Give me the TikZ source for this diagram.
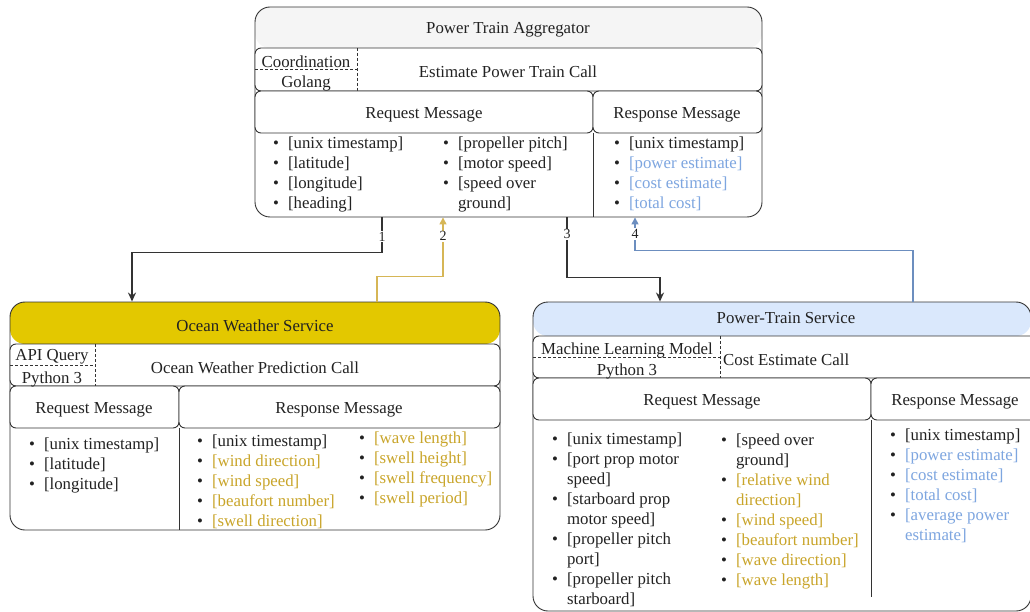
\documentclass[tikz,border=0pt]{standalone}
\usepackage{fontspec}
\setmainfont{Liberation Serif}
\usetikzlibrary{arrows.meta}

\definecolor{edge}{HTML}{333333}
\definecolor{txt}{HTML}{222222}
\definecolor{hdrgray}{HTML}{F5F5F5}
\definecolor{owsfill}{HTML}{E3C800}
\definecolor{ptsfill}{HTML}{DAE8FC}
\definecolor{ptsline}{HTML}{7EA6E0}
\definecolor{goldtxt}{HTML}{C9A52A}
\definecolor{bluetxt}{HTML}{7EA6E0}
\definecolor{goldarr}{HTML}{D6B656}
\definecolor{bluearr}{HTML}{6C8EBF}

\newcommand{\gd}[1]{\textcolor{goldtxt}{#1}}
\newcommand{\bl}[1]{\textcolor{bluetxt}{#1}}
\newcommand{\blist}[1]{\begin{tabular}{@{}c@{\hspace{9pt}}l@{}}#1\end{tabular}}

\tikzset{
  svcbox/.style={draw=edge, line width=0.9pt, fill=white, rounded corners=15pt, inner sep=0pt},
  rowbox/.style={draw=edge, line width=0.9pt, fill=white, rounded corners=6pt},
  splitline/.style={draw=edge, densely dashed, line width=0.6pt},
  ttl/.style={text=txt, font={\fontsize{16.8}{20}\selectfont}, inner sep=1pt, yshift=-2pt},
  lst/.style={text=txt, font={\fontsize{16.8}{20}\selectfont}, anchor=north west, inner sep=0pt, align=left},
  lbl/.style={fill=white, text=txt, font={\fontsize{14}{16}\selectfont}, inner sep=1pt},
  callarr/.style={draw=edge, line width=1.6pt, -{Stealth[length=9pt,width=8pt]}},
  goldret/.style={draw=goldarr, line width=1.4pt, -{Triangle[length=7pt,width=7pt]}},
  blueret/.style={draw=bluearr, line width=1.4pt, -{Triangle[length=7pt,width=7pt]}},
}

\begin{document}
\begin{tikzpicture}[x=1pt, y=-1pt]
\useasboundingbox (0,0) rectangle (1030,612);

%%%%% Power Train Aggregator %%%%%
\node[svcbox, minimum width=507pt, minimum height=210pt,
  path picture={\fill[hdrgray] (path picture bounding box.north west) rectangle ([yshift=-41pt]path picture bounding box.north east);}]
  (agg) at (508.5,112) {};
\draw[rowbox] (255,48) rectangle (762,91);
\draw[splitline] (357,48) -- (357,91);
\draw[splitline] (255,69) -- (357,69);
\draw[rowbox] (255,91) rectangle (593,133);
\draw[rowbox] (593,91) rectangle (762,133);
\draw[edge, line width=0.9pt] (593,133) -- (593,217);

\node[ttl] (agg-title) at (508,28) {Power Train Aggregator};
\node[ttl] (agg-role) at (306,60) {Coordination};
\node[ttl] (agg-lang) at (306,81) {Golang};
\node[ttl] (agg-call) at (508,70) {Estimate Power Train Call};
\node[ttl] (agg-req) at (424,113) {Request Message};
\node[ttl] (agg-resp) at (677,113) {Response Message};

\node[lst] (agg-req-a) at (273,134) {\blist{%
  \textbullet & [unix timestamp]\\
  \textbullet & [latitude]\\
  \textbullet & [longitude]\\
  \textbullet & [heading]}};
\node[lst] (agg-req-b) at (443,134) {\blist{%
  \textbullet & [propeller pitch]\\
  \textbullet & [motor speed]\\
  \textbullet & [speed over\\
              & ground]}};
\node[lst] (agg-resp-a) at (614,134) {\blist{%
  \textbullet & [unix timestamp]\\
  \textbullet & \bl{[power estimate]}\\
  \textbullet & \bl{[cost estimate]}\\
  \textbullet & \bl{[total cost]}}};

%%%%% Ocean Weather Service %%%%%
\node[svcbox, minimum width=490pt, minimum height=228pt,
  path picture={\fill[owsfill] (path picture bounding box.north west) rectangle ([yshift=-42pt]path picture bounding box.north east);}]
  (ows) at (255,416) {};
\draw[rowbox] (10,344) rectangle (500,386);
\draw[splitline] (95,344) -- (95,386);
\draw[splitline] (10,365) -- (95,365);
\draw[rowbox] (10,386) rectangle (179,428);
\draw[rowbox] (179,386) rectangle (500,428);
\draw[edge, line width=0.9pt] (179,428) -- (179,530);

\node[ttl] (ows-title) at (255,324) {Ocean Weather Service};
\node[ttl] (ows-role) at (52,355) {API Query};
\node[ttl] (ows-lang) at (52,377) {Python 3};
\node[ttl] (ows-call) at (255,366) {Ocean Weather Prediction Call};
\node[ttl] (ows-req) at (94,408) {Request Message};
\node[ttl] (ows-resp) at (339,408) {Response Message};

\node[lst] (ows-req-a) at (29,435) {\blist{%
  \textbullet & [unix timestamp]\\
  \textbullet & [latitude]\\
  \textbullet & [longitude]}};
\node[lst] (ows-resp-a) at (197,432) {\blist{%
  \textbullet & [unix timestamp]\\
  \textbullet & \gd{[wind direction]}\\
  \textbullet & \gd{[wind speed]}\\
  \textbullet & \gd{[beaufort number]}\\
  \textbullet & \gd{[swell direction]}}};
\node[lst] (ows-resp-b) at (359,429) {\blist{%
  \textbullet & \gd{[wave length]}\\
  \textbullet & \gd{[swell height]}\\
  \textbullet & \gd{[swell frequency]}\\
  \textbullet & \gd{[swell period]}}};

%%%%% Power-Train Service %%%%%
\node[svcbox, minimum width=498pt, minimum height=309pt,
  path picture={\fill[ptsfill] (path picture bounding box.north west) rectangle ([yshift=-34pt]path picture bounding box.north east);}]
  (pts) at (782,456.5) {};
\draw[rowbox] (533,336) rectangle (1038,378);
\draw[splitline] (720,336) -- (720,378);
\draw[splitline] (533,357) -- (720,357);
\draw[rowbox] (533,378) rectangle (871,420);
\draw[rowbox] (871,378) rectangle (1038,420);
\draw[edge, line width=0.9pt] (871,420) -- (871,597);

\node[ttl] (pts-title) at (786,316) {Power-Train Service};
\node[ttl] (pts-role) at (627,348) {Machine Learning Model};
\node[ttl] (pts-lang) at (627,369) {Python 3};
\node[ttl, anchor=west] (pts-call) at (722,358) {Cost Estimate Call};
\node[ttl] (pts-req) at (702,400) {Request Message};
\node[ttl] (pts-resp) at (955,400) {Response Message};

\node[lst] (pts-req-a) at (552,430) {\blist{%
  \textbullet & [unix timestamp]\\
  \textbullet & [port prop motor\\
              & speed]\\
  \textbullet & [starboard prop\\
              & motor speed]\\
  \textbullet & [propeller pitch\\
              & port]\\
  \textbullet & [propeller pitch\\
              & starboard]}};
\node[lst] (pts-req-b) at (721,431) {\blist{%
  \textbullet & [speed over\\
              & ground]\\
  \textbullet & \gd{[relative wind}\\
              & \gd{direction]}\\
  \textbullet & \gd{[wind speed]}\\
  \textbullet & \gd{[beaufort number]}\\
  \textbullet & \gd{[wave direction]}\\
  \textbullet & \gd{[wave length]}}};
\node[lst] (pts-resp-a) at (890,426) {\blist{%
  \textbullet & [unix timestamp]\\
  \textbullet & \bl{[power estimate]}\\
  \textbullet & \bl{[cost estimate]}\\
  \textbullet & \bl{[total cost]}\\
  \textbullet & \bl{[average power}\\
              & \bl{estimate]}}};

%%%%% calls and replies %%%%%
\draw[callarr] ([xshift=-126.5pt]agg.south) -- node[lbl, pos=0.55] {1} ++(0,35) -| (ows.north -| 132,0);
\draw[goldret] ([xshift=122pt]ows.north) -- ++(0,-25) -| node[lbl, pos=0.84, text=txt] {2} ([xshift=-65.5pt]agg.south);
\draw[callarr] ([xshift=58.5pt]agg.south) -- node[lbl, pos=0.28] {3} ++(0,60) -| ([xshift=-122pt]pts.north);
\draw[blueret] ([xshift=131pt]pts.north) -- ++(0,-51) -| node[lbl, pos=0.75] {4} ([xshift=126.5pt]agg.south);
\end{tikzpicture}
\end{document}
